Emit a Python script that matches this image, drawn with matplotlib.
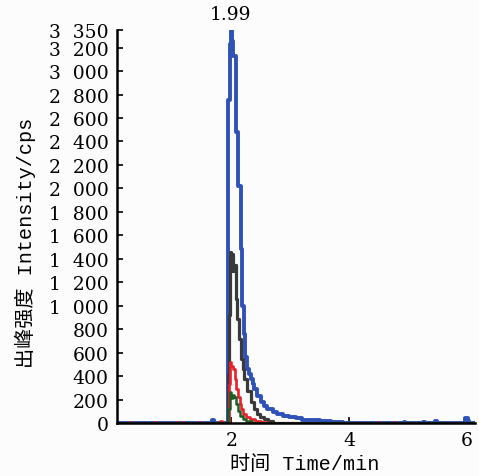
import matplotlib
matplotlib.use('Agg')
from matplotlib import pyplot as plt
from matplotlib.ticker import FixedLocator, FuncFormatter

# Step traces: time (min) where each level starts, and the level (cps)
t_blue = [0.05, 1.67, 1.70, 1.90, 1.94, 1.97, 1.99, 2.01, 2.03, 2.07, 2.12,
          2.155, 2.185, 2.21, 2.235, 2.27, 2.30, 2.33, 2.36, 2.39, 2.44, 2.50,
          2.555, 2.61, 2.70, 2.78, 2.87, 2.98, 3.10, 3.20, 3.35, 3.50, 3.70,
          3.90, 4.93, 4.96, 5.27, 5.30, 5.47, 5.50, 5.98, 6.02, 6.05, 6.15]
v_blue = [0, 25, 0, 0, 2750, 3230, 3350, 3260, 3130, 2480, 2020,
          1480, 1000, 760, 560, 460, 420, 375, 335, 290, 230, 180,
          145, 120, 94, 77, 60, 50, 40, 30, 22, 15, 10,
          0, 12, 0, 12, 0, 15, 0, 45, 20, 0, 0]

t_black = [0.05, 1.81, 1.84, 1.94, 1.96, 1.975, 2.00, 2.02, 2.035, 2.07,
           2.10, 2.13, 2.155, 2.19, 2.22, 2.27, 2.33, 2.38, 2.44, 2.49,
           2.55, 2.62, 2.70, 6.15]
v_black = [0, 10, 0, 420, 920, 1460, 1440, 1295, 1350, 1060,
           890, 716, 545, 460, 375, 275, 180, 120, 77, 50,
           34, 15, 0, 0]

t_red = [0.05, 0.25, 0.28, 0.68, 0.71, 1.05, 1.08, 1.16, 1.19, 1.44, 1.47,
         1.81, 1.84, 1.955, 1.97, 2.00, 2.02, 2.06, 2.085, 2.11, 2.14, 2.17,
         2.20, 2.25, 2.32, 2.40, 2.50, 2.60, 4.49, 4.52, 4.76, 4.79, 6.15]
v_red = [0, 12, 0, 10, 0, 8, 0, 10, 0, 12, 0,
         15, 0, 330, 520, 490, 460, 375, 290, 220, 160, 120,
         77, 50, 34, 17, 5, 0, 10, 0, 12, 0, 0]

t_green = [0.05, 1.95, 1.975, 2.00, 2.02, 2.05, 2.08, 2.11, 2.14, 2.19,
           2.25, 2.35, 6.15]
v_green = [0, 120, 265, 210, 240, 220, 160, 100, 60, 34,
           17, 0, 0]

y_ticks = list(range(0, 3201, 200)) + [3350]
x_ticks = [2, 4, 6]

fig = plt.figure(figsize=(4.79, 4.77), dpi=100)
ax = fig.add_axes([0.244, 0.111, 0.748, 0.824])
fig.patch.set_facecolor('#fcfcfc')
ax.set_facecolor('#fcfcfc')

ax.step(t_blue, v_blue, where='post', color='#2f52b8', lw=2.8, zorder=2)
ax.step(t_black, v_black, where='post', color='#3a3a3a', lw=2.3, zorder=3)
ax.step(t_red, v_red, where='post', color='#e8202a', lw=1.9, zorder=4)
ax.step(t_green, v_green, where='post', color='#1e5c25', lw=1.8, zorder=5)

ax.set_xlim(0.05, 6.15)
ax.set_ylim(0, 3350)
for s in ['top', 'right']:
    ax.spines[s].set_visible(False)
for s in ['left', 'bottom']:
    ax.spines[s].set_linewidth(1.8)
    ax.spines[s].set_zorder(6)

ax.yaxis.set_major_locator(FixedLocator(y_ticks))
ax.xaxis.set_major_locator(FixedLocator(x_ticks))
ax.yaxis.set_major_formatter(FuncFormatter(
    lambda v, p: f'{int(v):,}'.replace(',', '\u2007')))
ax.tick_params(direction='in', length=4, width=1.2, labelsize=13.5, pad=6)
for lab in ax.get_xticklabels() + ax.get_yticklabels():
    lab.set_family('DejaVu Serif')

lab_font = ['Liberation Mono', 'Noto Sans CJK SC']
ax.set_xlabel('时间 Time/min', family=lab_font, fontsize=14.5)
ax.set_ylabel('出峰强度 Intensity/cps', family=lab_font, fontsize=14.5)
ax.xaxis.set_label_coords(0.525, -0.078)
ax.yaxis.set_label_coords(-0.225, 0.46)

ax.annotate('1.99', xy=(1.99, 3350), xytext=(0, 5), textcoords='offset points',
            ha='center', va='bottom', family='DejaVu Serif', fontsize=13.5,
            annotation_clip=False)

fig.savefig('out.png', dpi=100, facecolor=fig.get_facecolor())
